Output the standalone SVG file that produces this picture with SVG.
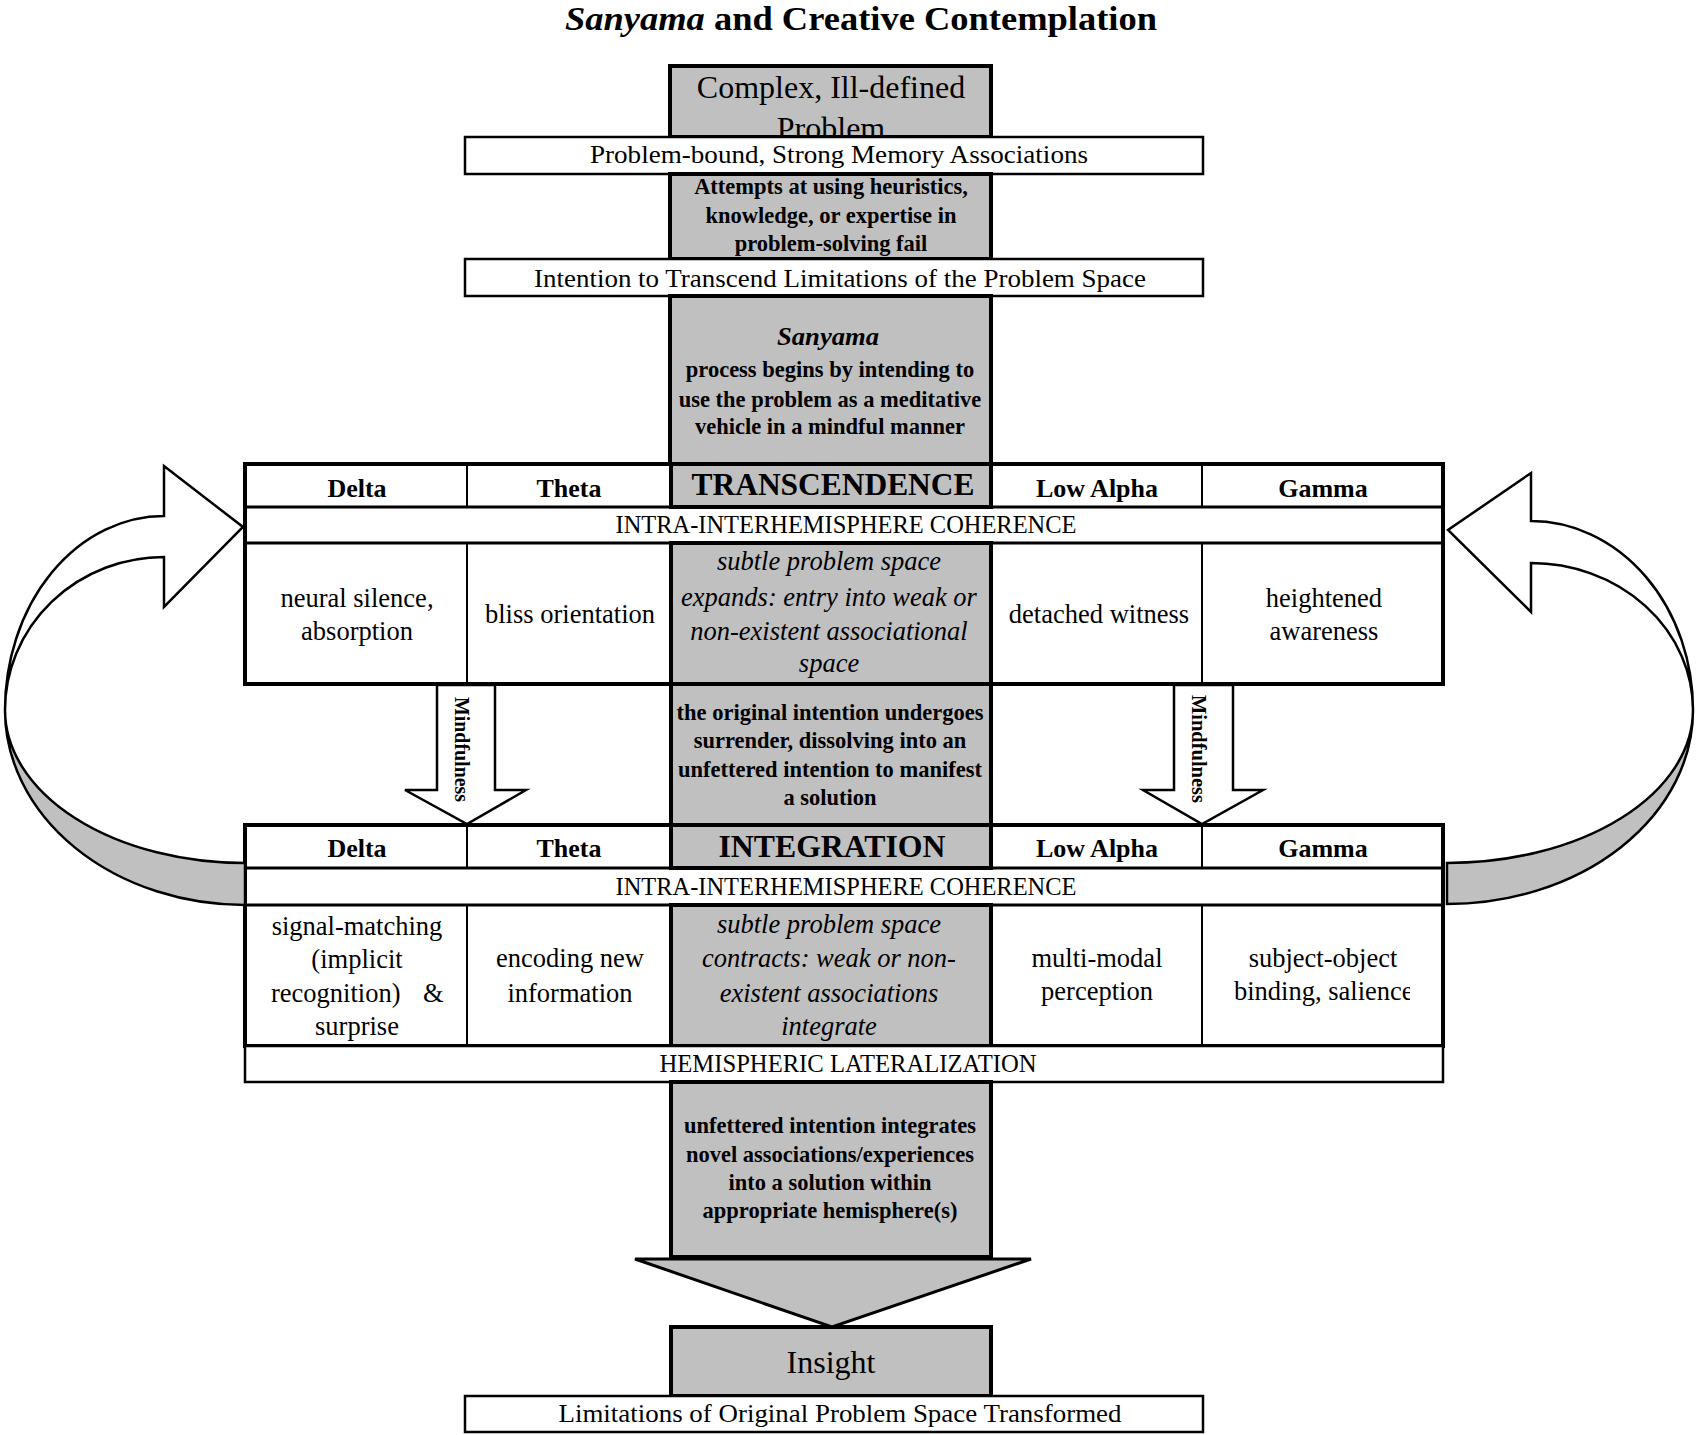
<svg xmlns="http://www.w3.org/2000/svg" width="1700" height="1435" viewBox="0 0 1700 1435">
<defs>
<style>
.g{fill:#c0c0c0;stroke:#000;stroke-width:4}
.w{fill:#fff;stroke:#000;stroke-width:2.5}
.tb{fill:#fff;stroke:#000;stroke-width:4}
.ln{stroke:#000;stroke-width:3;fill:none}
.thin{stroke:#000;stroke-width:2;fill:none}
.rb{stroke:#000;stroke-width:2.5;stroke-linejoin:miter}
text{font-family:"Liberation Serif","Times New Roman",serif;fill:#000;text-anchor:middle}
.b{font-weight:bold}
.i{font-style:italic}
.s26{font-size:26px}
.s265{font-size:26.5px}
.s225{font-size:22.5px;font-weight:bold}
.h{font-size:26px;font-weight:bold}
</style>
<clipPath id="clipSal"><rect x="1210" y="970" width="200" height="45"/></clipPath>
<clipPath id="clipProb"><rect x="672" y="68" width="317" height="69"/></clipPath>
</defs>
<rect width="1700" height="1435" fill="#fff"/>

<g id="title">
<text x="861" y="30" class="b" font-size="33" textLength="592" lengthAdjust="spacingAndGlyphs"><tspan class="i">Sanyama</tspan>  and Creative Contemplation</text>
</g>

<g id="problem">
<rect class="g" x="670" y="66" width="321" height="71"/>
<text x="831" y="98" font-size="32">Complex, Ill-defined</text>
<text x="831" y="139" font-size="32" clip-path="url(#clipProb)">Problem</text>
</g>

<g id="memory-bar">
<rect class="w" x="465" y="137" width="738" height="37"/>
<text x="839" y="163" class="s26" textLength="498" lengthAdjust="spacingAndGlyphs">Problem-bound, Strong Memory Associations</text>
</g>

<g id="attempts">
<rect class="g" x="670" y="174" width="321" height="85"/>
<text x="831" y="194" class="s225">Attempts at using heuristics,</text>
<text x="831" y="223" class="s225">knowledge, or expertise in</text>
<text x="831" y="251" class="s225">problem-solving fail</text>
</g>

<g id="intention-bar">
<rect class="w" x="465" y="259" width="738" height="37"/>
<text x="840" y="287" class="s26" textLength="612" lengthAdjust="spacingAndGlyphs">Intention to Transcend Limitations of the Problem Space</text>
</g>

<g id="sanyama">
<rect class="g" x="670" y="296" width="321" height="168"/>
<text x="828" y="345" class="b i" font-size="25" textLength="102" lengthAdjust="spacingAndGlyphs">Sanyama</text>
<text x="830" y="377" class="s225">process begins by intending to</text>
<text x="830" y="407" class="s225">use the problem as a meditative</text>
<text x="830" y="434" class="s225">vehicle in a mindful manner</text>
</g>

<g id="transcendence">
<rect class="tb" x="245" y="464" width="1198" height="220"/>
<rect class="g" x="671" y="464" width="320" height="43"/>
<rect class="g" x="671" y="543" width="320" height="141"/>
<line class="ln" x1="245" y1="507" x2="1443" y2="507"/>
<line class="ln" x1="245" y1="543" x2="1443" y2="543"/>
<line class="thin" x1="467" y1="464" x2="467" y2="507"/>
<line class="thin" x1="467" y1="543" x2="467" y2="684"/>
<line class="thin" x1="1202" y1="464" x2="1202" y2="507"/>
<line class="thin" x1="1202" y1="543" x2="1202" y2="684"/>
<rect x="245" y="464" width="1198" height="220" fill="none" stroke="#000" stroke-width="4"/>
<text x="357" y="497" class="h">Delta</text>
<text x="569" y="497" class="h">Theta</text>
<text x="833" y="495" class="b" font-size="31" textLength="283" lengthAdjust="spacingAndGlyphs">TRANSCENDENCE</text>
<text x="1097" y="497" class="h">Low Alpha</text>
<text x="1323" y="497" class="h">Gamma</text>
<text x="846" y="533" font-size="24.5" textLength="461" lengthAdjust="spacingAndGlyphs">INTRA-INTERHEMISPHERE COHERENCE</text>
<text x="357" y="607" class="s265">neural silence,</text>
<text x="357" y="640" class="s265">absorption</text>
<text x="570" y="623" class="s265">bliss orientation</text>
<text x="829" y="570" class="i s265">subtle problem space</text>
<text x="829" y="606" class="i s265">expands: entry into weak or</text>
<text x="829" y="640" class="i s265">non-existent associational</text>
<text x="829" y="672" class="i s265">space</text>
<text x="1099" y="623" class="s265">detached witness</text>
<text x="1324" y="607" class="s265">heightened</text>
<text x="1324" y="640" class="s265">awareness</text>
</g>

<g id="surrender">
<rect class="g" x="671" y="684" width="320" height="141"/>
<text x="830" y="720" class="s225">the original intention undergoes</text>
<text x="830" y="748" class="s225">surrender, dissolving into an</text>
<text x="830" y="777" class="s225">unfettered intention to manifest</text>
<text x="830" y="805" class="s225">a solution</text>
</g>

<g id="integration">
<rect class="tb" x="245" y="825" width="1198" height="221"/>
<rect class="g" x="671" y="825" width="320" height="43"/>
<rect class="g" x="671" y="905" width="320" height="141"/>
<line class="ln" x1="245" y1="868" x2="1443" y2="868"/>
<line class="ln" x1="245" y1="905" x2="1443" y2="905"/>
<line class="thin" x1="467" y1="825" x2="467" y2="868"/>
<line class="thin" x1="467" y1="905" x2="467" y2="1046"/>
<line class="thin" x1="1202" y1="825" x2="1202" y2="868"/>
<line class="thin" x1="1202" y1="905" x2="1202" y2="1046"/>
<rect x="245" y="825" width="1198" height="221" fill="none" stroke="#000" stroke-width="4"/>
<text x="357" y="857" class="h">Delta</text>
<text x="569" y="857" class="h">Theta</text>
<text x="832" y="857" class="b" font-size="31" textLength="227" lengthAdjust="spacingAndGlyphs">INTEGRATION</text>
<text x="1097" y="857" class="h">Low Alpha</text>
<text x="1323" y="857" class="h">Gamma</text>
<text x="846" y="895" font-size="24.5" textLength="461" lengthAdjust="spacingAndGlyphs">INTRA-INTERHEMISPHERE COHERENCE</text>
<text x="357" y="935" class="s265">signal-matching</text>
<text x="357" y="968" class="s265">(implicit</text>
<text y="1002" class="s265" style="text-anchor:start"><tspan x="271">recognition)</tspan><tspan x="423">&amp;</tspan></text>
<text x="357" y="1035" class="s265">surprise</text>
<text x="570" y="967" class="s265">encoding new</text>
<text x="570" y="1002" class="s265">information</text>
<text x="829" y="933" class="i s265">subtle problem space</text>
<text x="829" y="967" class="i s265">contracts: weak or non-</text>
<text x="829" y="1002" class="i s265">existent associations</text>
<text x="829" y="1035" class="i s265">integrate</text>
<text x="1097" y="967" class="s265">multi-modal</text>
<text x="1097" y="1000" class="s265">perception</text>
<text x="1323" y="967" class="s265">subject-object</text>
<text x="1234" y="1000" class="s265" style="text-anchor:start" clip-path="url(#clipSal)">binding, salience</text>
</g>

<g id="lateralization-bar">
<rect class="w" x="245" y="1046" width="1198" height="36"/>
<text x="848" y="1072" font-size="24.5" textLength="377" lengthAdjust="spacingAndGlyphs">HEMISPHERIC LATERALIZATION</text>
</g>

<g id="solution">
<rect class="g" x="671" y="1082" width="320" height="175"/>
<text x="830" y="1133" class="s225">unfettered intention integrates</text>
<text x="830" y="1162" class="s225">novel associations/experiences</text>
<text x="830" y="1190" class="s225">into a solution within</text>
<text x="830" y="1218" class="s225">appropriate hemisphere(s)</text>
</g>

<g id="insight">
<rect class="g" x="671" y="1327" width="320" height="69"/>
<text x="831" y="1373" font-size="32">Insight</text>
</g>

<g id="transformed-bar">
<rect class="w" x="465" y="1396" width="738" height="36"/>
<text x="840" y="1422" class="s26" textLength="563" lengthAdjust="spacingAndGlyphs">Limitations of Original Problem Space Transformed</text>
</g>

<g id="connectors">
<polygon class="g" style="stroke-width:3" points="635,1259 1031,1259 832,1327"/>
<path class="rb" fill="#c0c0c0" d="M5,710 A240,195 0 0 0 245,905 L245,863 A240,153 0 0 1 5,710 Z"/>
<path class="rb" fill="#fff" d="M164,516 L164,466 L243,527 L164,607 L164,557 A159,153 0 0 0 5,710 A159,194 0 0 1 164,516 Z"/>
<path class="rb" fill="#c0c0c0" d="M1693,710 A246,194 0 0 1 1447,904 L1447,863 A246,153 0 0 0 1693,710 Z"/>
<path class="rb" fill="#fff" d="M1531,521 L1531,473 L1448,530 L1531,612 L1531,563 A162,147 0 0 1 1693,710 A162,189 0 0 0 1531,521 Z"/>
<polygon class="w" points="437,685 495,685 495,790 526,790 467,824 405,790 437,790"/>
<polygon class="w" points="1174,685 1233,685 1233,790 1263,790 1202,824 1143,790 1174,790"/>
<text transform="translate(455,697) rotate(90)" class="b" font-size="20" style="text-anchor:start" textLength="105" lengthAdjust="spacingAndGlyphs">Mindfulness</text>
<text transform="translate(1192,695) rotate(90)" class="b" font-size="20" style="text-anchor:start" textLength="108" lengthAdjust="spacingAndGlyphs">Mindfulness</text>
</g>
</svg>
